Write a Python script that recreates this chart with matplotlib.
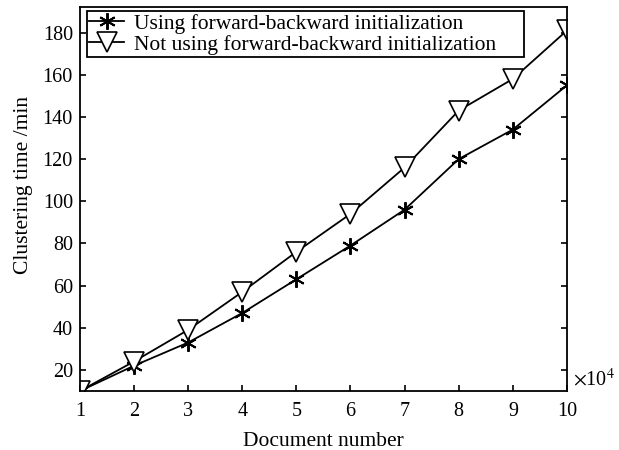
import matplotlib
matplotlib.use("Agg")
import matplotlib.pyplot as plt

# Document number (x10^4)
doc_number = [1, 2, 3, 4, 5, 6, 7, 8, 9, 10]
# Clustering time (min)
time_fb_init = [10, 22, 33, 47, 63, 79, 96, 120, 134, 155]
time_no_fb_init = [10, 24, 39, 57, 76, 94, 116, 143, 158, 181]

y_ticks = [20, 40, 60, 80, 100, 120, 140, 160, 180]

plt.rcParams["font.family"] = "Liberation Serif"
plt.rcParams["mathtext.fontset"] = "stix"

fig = plt.figure(figsize=(6.19, 4.5), dpi=100)
ax = fig.add_axes([0.129, 0.131, 0.787, 0.853])

ax.plot(doc_number, time_fb_init, color="black", linewidth=1.3,
        marker=(6, 2, 0), markersize=12, markeredgewidth=1.4,
        label="Using forward-backward initialization")
ax.plot(doc_number, time_no_fb_init, color="black", linewidth=1.3,
        marker="v", markersize=14, markerfacecolor="white",
        markeredgewidth=1.2,
        label="Not using forward-backward initialization")

ax.set_xlim(1, 10)
ax.set_ylim(10, 192)
ax.set_xticks(doc_number)
ax.set_yticks(y_ticks)
ax.tick_params(direction="in", right=True, length=4, width=1.2, labelsize=14.5)
ax.tick_params(axis="x", pad=8)
ax.tick_params(axis="y", pad=5)
for s in ax.spines.values():
    s.set_linewidth(1.3)

ax.set_xlabel("Document number", fontsize=15.5, labelpad=8)
ax.set_ylabel("Clustering time /min", fontsize=15.5)
ax.yaxis.set_label_coords(-0.097, 0.536)
ax.text(1.012, 0.03, r"$\times$10$^4$", transform=ax.transAxes,
        fontsize=14.5, ha="left", va="center")

leg = ax.legend(loc="upper left", bbox_to_anchor=(0.0144, 0.0, 0.897, 0.99),
                mode="expand", fancybox=False, edgecolor="black",
                framealpha=1, borderaxespad=0, handlelength=1.6,
                borderpad=0.12, labelspacing=0.05, handletextpad=0.45,
                fontsize=15.5)
leg.get_frame().set_linewidth(1.3)

plt.savefig("out.png", dpi=100)
